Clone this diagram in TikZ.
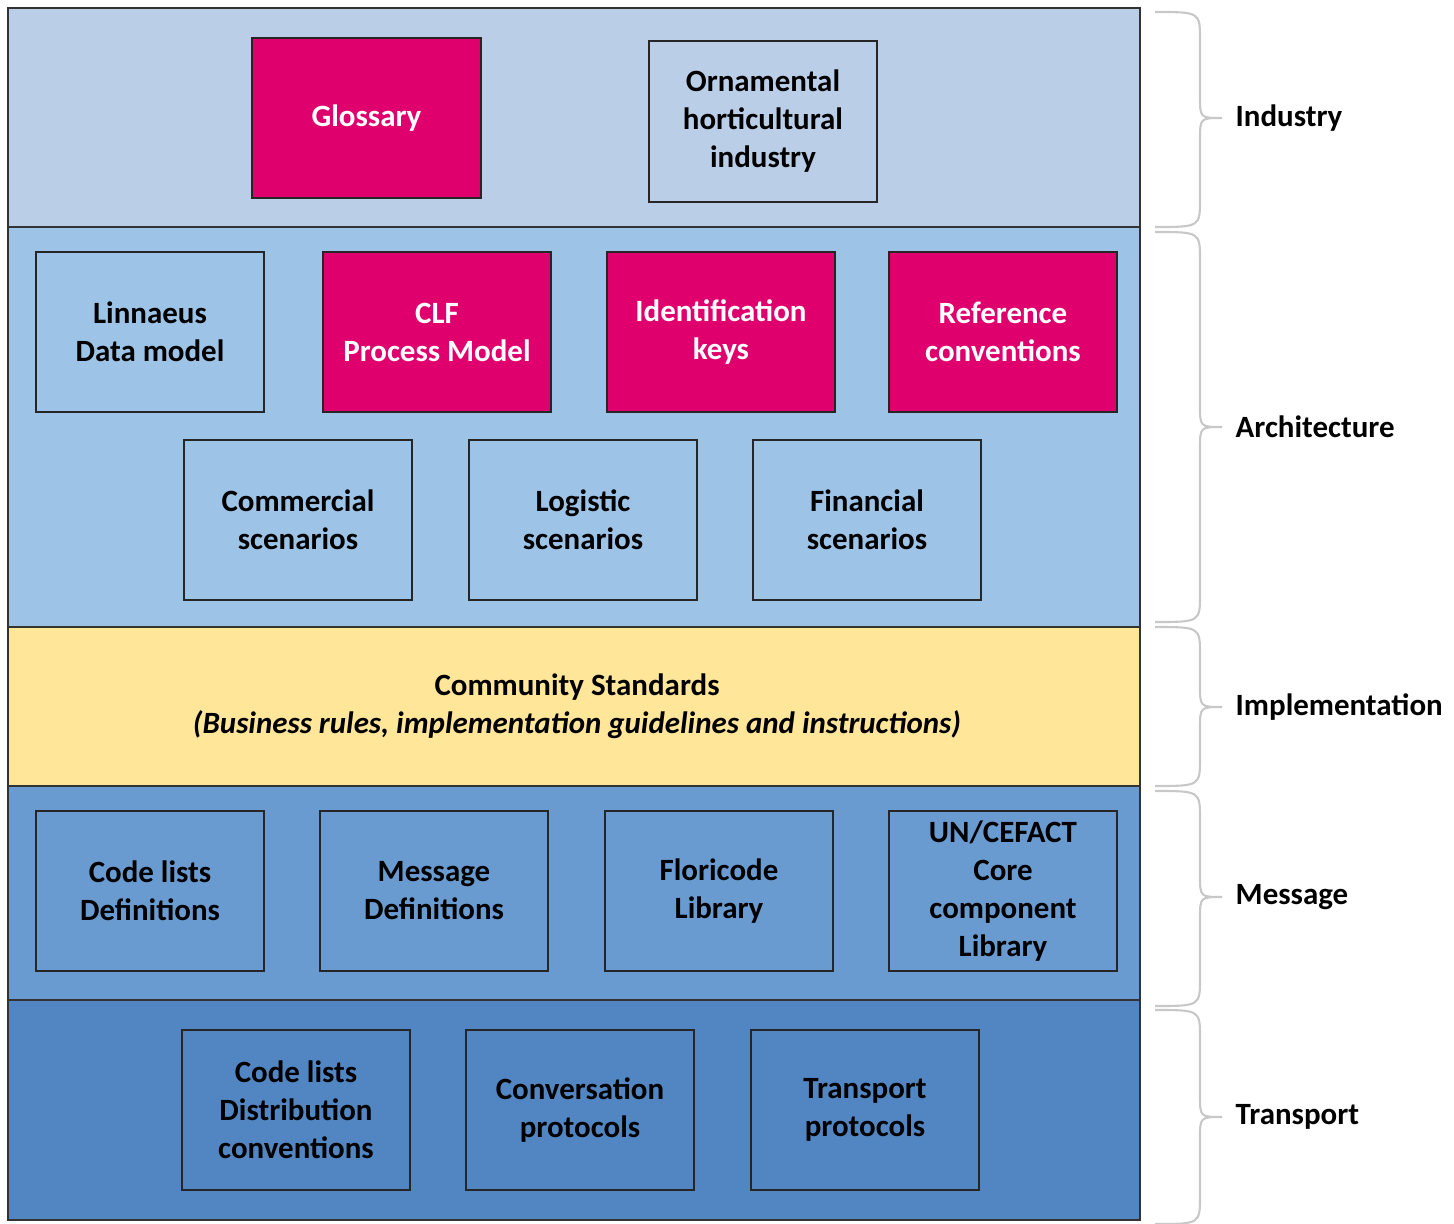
\documentclass[tikz,border=0pt]{standalone}
\usepackage{fontspec}
\setmainfont{Carlito}
\definecolor{indbg}{HTML}{BACEE8}
\definecolor{archbg}{HTML}{9DC3E6}
\definecolor{implbg}{HTML}{FFE699}
\definecolor{msgbg}{HTML}{6A9BD0}
\definecolor{trbg}{HTML}{5286C2}
\definecolor{mag}{HTML}{DF006E}
\definecolor{brgray}{HTML}{C8C8C8}
\begin{document}
\begin{tikzpicture}[x=0.01cm,y=-0.01cm,
  every node/.style={font=\fontsize{8.8}{10.8}\selectfont\bfseries, align=center},
  band/.style={draw=black!80, line width=0.6pt},
  card/.style={draw=black!85, line width=0.55pt, minimum width=2.28cm, minimum height=1.6cm, inner sep=1pt, text=black},
  magcard/.style={card, fill=mag, text=white},
  brace/.style={draw=brgray, line width=0.6pt},
  lbl/.style={anchor=west, text=black, inner sep=0pt}
]
\useasboundingbox (0,0) rectangle (1454,1224);
% bands
\path[band, fill=indbg] (8,8) rectangle (1140,227);
\path[band, fill=archbg] (8,227) rectangle (1140,627);
\path[band, fill=implbg] (8,627) rectangle (1140,786);
\path[band, fill=msgbg] (8,786) rectangle (1140,1000);
\path[band, fill=trbg] (8,1000) rectangle (1140,1220);
% industry
\node[magcard, fill=mag] (glos) at (366.5,118) {Glossary};
\node[card, fill=indbg] (orn) at (763,121.5) {Ornamental\\horticultural\\industry};
% architecture
\node[card, fill=archbg] (lin) at (150,332) {Linnaeus\\Data model};
\node[magcard] (clf) at (437,332) {CLF\\Process Model};
\node[magcard] (idk) at (721,332) {Identification\\keys};
\node[magcard] (ref) at (1003,332) {Reference\\conventions};
\node[card, fill=archbg] (com) at (298,520) {Commercial\\scenarios};
\node[card, fill=archbg] (log) at (583,520) {Logistic\\scenarios};
\node[card, fill=archbg] (fin) at (867,520) {Financial\\scenarios};
% implementation
\node[text=black] (cs) at (577,706) {Community Standards\\\textit{(Business rules, implementation guidelines and instructions)}};
% message
\node[card, fill=msgbg] (cld) at (150,891) {Code lists\\Definitions};
\node[card, fill=msgbg] (msd) at (434,891) {Message\\Definitions};
\node[card, fill=msgbg] (flo) at (719,891) {Floricode\\Library};
\node[card, fill=msgbg] (unc) at (1003,891) {UN/CEFACT\\Core\\component\\Library};
% transport
\node[card, fill=trbg] (cldc) at (296,1110) {Code lists\\Distribution\\conventions};
\node[card, fill=trbg] (conv) at (580,1110) {Conversation\\protocols};
\node[card, fill=trbg] (tran) at (865,1110) {Transport\\protocols};
% braces
\foreach \yt/\ym/\yb/\nm/\txt in {12/118/227/bi/Industry, 232/427/622/ba/Architecture, 627/707/786/bm/Implementation, 791/897/1006/bs/Message, 1010/1117/1224/bt/Transport}{
  \draw[brace] (1155,\yt) .. controls (1200,\yt) .. (1200,\yt+28) -- (1200,\ym-22) .. controls (1200,\ym) .. (1222,\ym)
     .. controls (1200,\ym) .. (1200,\ym+22) -- (1200,\yb-28) .. controls (1200,\yb) .. (1155,\yb);
  \node[lbl] (\nm) at (1235,\ym) {\txt};
}
\end{tikzpicture}
\end{document}
